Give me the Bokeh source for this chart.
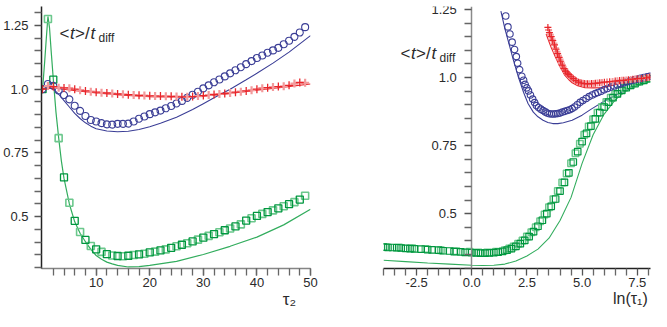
from bokeh.plotting import figure
from bokeh.layouts import row
from bokeh.models import Range1d, LinearAxis, FixedTicker, NumeralTickFormatter, Label
from bokeh.embed import file_html
from bokeh.resources import INLINE

# ---------------- data: left panel (x = tau2) ----------------
tau2 = list(range(50))
green_sq_left = [1.000, 1.275, 1.037, 0.808, 0.654, 0.555, 0.484, 0.440, 0.409, 0.385,
                 0.372, 0.362, 0.353, 0.348, 0.346, 0.345, 0.347, 0.350, 0.352, 0.355,
                 0.360, 0.363, 0.368, 0.372, 0.378, 0.384, 0.390, 0.396, 0.403, 0.410,
                 0.418, 0.425, 0.432, 0.439, 0.447, 0.454, 0.462, 0.470, 0.485, 0.494,
                 0.503, 0.511, 0.518, 0.525, 0.533, 0.541, 0.549, 0.557, 0.567, 0.582]
blue_ci_left = [1.000, 1.020, 1.013, 0.995, 0.977, 0.960, 0.935, 0.915, 0.895, 0.879,
                0.873, 0.867, 0.862, 0.861, 0.864, 0.864, 0.865, 0.873, 0.884, 0.893,
                0.902, 0.909, 0.916, 0.925, 0.934, 0.944, 0.954, 0.966, 0.978, 0.990,
                1.003, 1.015, 1.027, 1.038, 1.050, 1.062, 1.074, 1.086, 1.098, 1.110,
                1.122, 1.132, 1.143, 1.152, 1.162, 1.176, 1.190, 1.205, 1.222, 1.243]
red_pl_left = [1.000, 1.012, 1.010, 1.006, 1.005, 1.004, 1.000, 0.996, 0.993, 0.990,
               0.988, 0.986, 0.985, 0.983, 0.981, 0.980, 0.978, 0.977, 0.976, 0.975,
               0.974, 0.973, 0.973, 0.972, 0.972, 0.971, 0.970, 0.970, 0.971, 0.973,
               0.975, 0.977, 0.979, 0.981, 0.983, 0.985, 0.988, 0.990, 0.993, 0.996,
               1.000, 1.004, 1.006, 1.008, 1.010, 1.011, 1.015, 1.022, 1.026, 1.025]

green_line_left_x = [0, 0.4, 0.7, 1.0, 1.3, 1.6, 2.0, 2.5, 3.0, 3.5, 4, 5, 6, 7, 8, 9, 10,
                     11, 12, 13, 14, 16, 18, 20, 25, 30, 35, 40, 45, 50]
green_line_left_y = [1.0, 1.11, 1.20, 1.285, 1.24, 1.15, 1.04, 0.91, 0.81, 0.72, 0.65, 0.55,
                     0.48, 0.435, 0.402, 0.372, 0.348, 0.333, 0.322, 0.315, 0.309, 0.303,
                     0.304, 0.309, 0.325, 0.352, 0.384, 0.420, 0.468, 0.529]
blue_line_left_x = [0, 1, 2, 3, 4, 5, 6, 7, 8, 9, 10, 12, 14, 16, 18, 20, 22, 25, 28, 30,
                    32, 35, 38, 40, 43, 46, 50]
blue_line_left_y = [1.0, 1.01, 1.0, 0.98, 0.955, 0.93, 0.905, 0.885, 0.868, 0.855, 0.845,
                    0.836, 0.833, 0.835, 0.842, 0.853, 0.866, 0.89, 0.92, 0.943, 0.966,
                    1.0, 1.037, 1.062, 1.102, 1.145, 1.21]
red_line_left_x = [0, 2, 5, 10, 15, 20, 25, 30, 35, 40, 45, 50]
red_line_left_y = [1.0, 1.005, 0.997, 0.985, 0.976, 0.970, 0.968, 0.972, 0.983, 0.996,
                   1.008, 1.020]

# ---------------- data: right panel (x = ln tau1) ----------------
green_sq_right_x = [-4.0, -3.8, -3.6, -3.4, -3.2, -3.0, -2.8, -2.6, -2.3, -2.0, -1.8, -1.5,
                    -1.3, -1.0, -0.8, -0.5, -0.3, 0.0, 0.2, 0.4, 0.6, 0.8, 1.0, 1.2, 1.4,
                    1.6, 1.8, 2.0, 2.2, 2.4, 2.6, 2.8, 3.0, 3.2, 3.4, 3.6, 3.8, 4.0, 4.2,
                    4.4, 4.6, 4.8, 5.0, 5.2, 5.4, 5.6, 5.8, 6.0, 6.2, 6.4, 6.6, 6.8, 7.0,
                    7.2, 7.4, 7.6, 7.8, 8.0]
green_sq_right_y = [0.377, 0.376, 0.376, 0.375, 0.374, 0.373, 0.372, 0.371, 0.370, 0.368,
                    0.367, 0.366, 0.364, 0.363, 0.361, 0.360, 0.358, 0.357, 0.356, 0.355,
                    0.355, 0.356, 0.357, 0.359, 0.362, 0.366, 0.372, 0.380, 0.390, 0.402,
                    0.416, 0.434, 0.454, 0.476, 0.500, 0.527, 0.554, 0.583, 0.615, 0.650,
                    0.690, 0.728, 0.765, 0.795, 0.822, 0.848, 0.871, 0.892, 0.910, 0.926,
                    0.940, 0.953, 0.963, 0.971, 0.978, 0.985, 0.990, 0.996]
green_sq2_right_x = [-3.9, -3.3, -2.7, -2.1, -1.4, -0.7, -0.1, 0.3, 0.7, 1.1, 1.5, 1.7,
                     1.9, 2.1, 2.3, 2.5, 2.7, 2.9, 3.1, 3.3, 3.5, 3.7, 3.9, 4.1, 4.3, 4.5,
                     4.7, 4.9, 5.1, 5.3, 5.5, 5.7, 5.9, 6.1, 6.3, 6.5, 6.7, 6.9, 7.1, 7.3,
                     7.5, 7.7, 7.9]
green_sq2_right_y = [0.378, 0.376, 0.373, 0.370, 0.366, 0.362, 0.360, 0.358, 0.358, 0.360,
                     0.366, 0.372, 0.380, 0.390, 0.402, 0.416, 0.432, 0.450, 0.472, 0.497,
                     0.524, 0.553, 0.583, 0.615, 0.648, 0.685, 0.722, 0.757, 0.790, 0.820,
                     0.847, 0.871, 0.892, 0.910, 0.926, 0.940, 0.953, 0.963, 0.972, 0.979,
                     0.985, 0.990, 0.995]
blue_ci_right_x = [1.54, 1.64, 1.73, 1.83, 1.94, 2.02, 2.08, 2.17, 2.27, 2.35, 2.42, 2.50,
                   2.57, 2.66, 2.76, 2.85, 2.93, 3.03, 3.13, 3.23, 3.33, 3.42, 3.52, 3.62,
                   3.72, 3.81, 3.90, 4.00, 4.11, 4.22, 4.33, 4.44, 4.55, 4.66, 4.78, 4.91,
                   5.04, 5.18, 5.32, 5.46, 5.60, 5.72, 5.86, 6.00, 6.15, 6.30, 6.45, 6.60,
                   6.75, 6.89, 7.05, 7.20, 7.35, 7.50, 7.65, 7.80, 7.95, 8.07]
blue_ci_right_y = [1.226, 1.186, 1.160, 1.130, 1.103, 1.077, 1.053, 1.029, 1.005, 0.990,
                   0.975, 0.962, 0.951, 0.936, 0.921, 0.908, 0.897, 0.890, 0.884, 0.879,
                   0.874, 0.870, 0.867, 0.866, 0.866, 0.867, 0.868, 0.870, 0.873, 0.876,
                   0.879, 0.882, 0.886, 0.892, 0.900, 0.909, 0.916, 0.923, 0.930, 0.936,
                   0.941, 0.945, 0.950, 0.955, 0.960, 0.965, 0.969, 0.973, 0.977, 0.981,
                   0.985, 0.988, 0.991, 0.994, 0.997, 1.000, 1.003, 1.005]
red_pl_right_x = [3.45, 3.52, 3.60, 3.67, 3.75, 3.82, 3.89, 3.96, 4.03, 4.10, 4.18, 4.25,
                  4.33, 4.40, 4.50, 4.60, 4.72, 4.84, 4.96, 5.10, 5.25, 5.43, 5.60, 5.80,
                  6.01, 6.25, 6.50, 6.70, 6.89, 7.10, 7.30, 7.50, 7.70, 7.92, 8.07]
red_pl_right_y = [1.184, 1.165, 1.150, 1.136, 1.120, 1.104, 1.088, 1.074, 1.060, 1.046,
                  1.033, 1.024, 1.016, 1.011, 1.003, 0.996, 0.989, 0.983, 0.980, 0.978,
                  0.977, 0.978, 0.979, 0.981, 0.983, 0.985, 0.987, 0.989, 0.990, 0.992,
                  0.994, 0.996, 0.997, 0.999, 1.002]
red_pl2_right_x = [3.48, 3.56, 3.64, 3.72, 3.80, 3.86, 3.93, 4.00, 4.07, 4.14, 4.22, 4.30,
                   4.37, 4.45, 4.55, 4.66, 4.78, 4.90, 5.03, 5.18, 5.34, 5.52, 5.70, 5.90,
                   6.13, 6.38, 6.60, 6.80, 7.00, 7.20, 7.40, 7.60, 7.82, 8.00]
red_pl2_right_y = [1.175, 1.157, 1.140, 1.125, 1.108, 1.095, 1.080, 1.066, 1.053, 1.040,
                   1.030, 1.020, 1.013, 1.007, 1.000, 0.993, 0.986, 0.982, 0.979, 0.977,
                   0.977, 0.978, 0.980, 0.982, 0.984, 0.986, 0.988, 0.990, 0.991, 0.993,
                   0.995, 0.996, 0.998, 1.000]

green_line_right_x = [-4, -3, -2, -1, 0, 0.5, 1, 1.5, 2, 2.5, 3, 3.5, 4, 4.5, 5, 5.5, 6,
                      6.5, 7, 7.5, 8.07]
green_line_right_y = [0.329, 0.324, 0.319, 0.315, 0.311, 0.310, 0.311, 0.315, 0.326, 0.345,
                      0.370, 0.410, 0.475, 0.560, 0.685, 0.790, 0.866, 0.918, 0.952, 0.975,
                      0.990]
blue_line_right_x = [1.32, 1.5, 1.7, 1.88, 2.1, 2.35, 2.55, 2.79, 3.0, 3.23, 3.45, 3.67,
                     3.9, 4.15, 4.55, 5.0, 5.43, 6.0, 6.6, 7.2, 7.6, 8.07]
blue_line_right_y = [1.244, 1.18, 1.12, 1.066, 1.005, 0.945, 0.905, 0.873, 0.856, 0.843,
                     0.835, 0.831, 0.831, 0.834, 0.843, 0.862, 0.885, 0.913, 0.939, 0.962,
                     0.977, 0.999]
red_line_right_x = [3.37, 3.6, 3.8, 3.96, 4.2, 4.4, 4.55, 4.8, 5.13, 5.5, 5.87, 6.3, 6.89,
                    7.5, 8.07]
red_line_right_y = [1.16, 1.11, 1.074, 1.046, 1.01, 0.992, 0.981, 0.970, 0.963, 0.962,
                    0.963, 0.970, 0.981, 0.990, 1.000]

y_major = [0.5, 0.75, 1.0, 1.25]
y_minor = [0.30, 0.35, 0.40, 0.45, 0.55, 0.60, 0.65, 0.70, 0.80, 0.85, 0.90, 0.95,
           1.05, 1.10, 1.15, 1.20, 1.30]
x_left_major = [10, 20, 30, 40, 50]
x_left_minor = list(range(2, 51, 2))
x_right_major = [-2.5, 0.0, 2.5, 5.0, 7.5]
x_right_minor = [-4.0, -3.5, -3.0, -2.0, -1.5, -1.0, -0.5, 0.5, 1.0, 1.5, 2.0, 3.0, 3.5,
                 4.0, 4.5, 5.5, 6.0, 6.5, 7.0, 8.0]

x_left_title = "τ₂"
x_right_title = "ln(τ₁)"

# ---------------- styles ----------------
FONT = "Liberation Sans"
RED = "#e8262b"
PINK = "#f39a9c"
BLUE = "#3b3e96"
GREEN_D = "#00973f"
GREEN_L = "#6cc88d"
GREEN_LINE = "#33ad5e"
TXT = "#2a2a2a"
NBSP = "\u00a0"


def style_axis(ax, line_color, fmt, standoff):
    ax.axis_line_color = line_color
    ax.axis_line_width = 1.5
    ax.major_tick_line_color = "#555555"
    ax.minor_tick_line_color = "#666666"
    ax.major_tick_line_width = 1.3
    ax.minor_tick_line_width = 1.3
    ax.major_tick_in = 0
    ax.minor_tick_in = 0
    ax.major_tick_out = 7
    ax.minor_tick_out = 7
    ax.major_label_text_font = FONT
    ax.major_label_text_font_size = "13px"
    ax.major_label_text_color = TXT
    ax.major_label_standoff = standoff
    ax.formatter = NumeralTickFormatter(format=fmt)
    ax.axis_label_text_font = FONT
    ax.axis_label_text_font_style = "normal"
    ax.axis_label_text_color = TXT
    ax.axis_label_standoff = 0


def add_text(p, x, y, text, size, italic=False):
    p.add_layout(Label(x=x, y=y, x_units="screen", y_units="screen", text=text,
                       text_font=FONT, text_font_size=size, text_color=TXT,
                       text_font_style="italic" if italic else "normal",
                       text_baseline="alphabetic", text_align="left"))


def tdiff_label(p, x0, y0):
    add_text(p, x0, y0, "<", "17px")
    add_text(p, x0 + 10.5, y0, "t", "17px", italic=True)
    add_text(p, x0 + 15.5, y0, ">", "17px")
    add_text(p, x0 + 25.5, y0, "/", "17px")
    add_text(p, x0 + 31, y0, "t", "17px", italic=True)
    add_text(p, x0 + 39, y0 - 4, "diff", "12px")


# ---------------- left figure ----------------
p1 = figure(width=330, height=311, x_range=Range1d(-0.2, 50), y_range=Range1d(0.297, 1.324),
            output_backend="svg", toolbar_location=None, x_axis_location=None,
            y_axis_location=None, min_border_left=40, min_border_right=20,
            min_border_top=6, min_border_bottom=42, title=None)
p1.grid.grid_line_color = None
p1.outline_line_color = None

xa1 = LinearAxis(ticker=FixedTicker(ticks=x_left_major, minor_ticks=x_left_minor))
style_axis(xa1, "#858585", "0", standoff=2)
# centred label, padded in front so that the visible text sits near the right end
xa1.axis_label = NBSP * 48 + x_left_title
xa1.axis_label_text_font_size = "17px"
p1.add_layout(xa1, "below")
ya1 = LinearAxis(ticker=FixedTicker(ticks=y_major, minor_ticks=y_minor))
style_axis(ya1, "#222222", "0.0[0]", standoff=6)
p1.add_layout(ya1, "left")

p1.line(green_line_left_x, green_line_left_y, line_color=GREEN_LINE, line_width=1.2)
p1.line(blue_line_left_x, blue_line_left_y, line_color=BLUE, line_width=1.1)
p1.line(red_line_left_x, red_line_left_y, line_color=RED, line_width=1.1)

p1.scatter(tau2[1::2], green_sq_left[1::2], marker="square", size=7, fill_color=None,
           line_color=GREEN_L, line_width=1.6)
p1.scatter(tau2[0::2], green_sq_left[0::2], marker="square", size=7, fill_color=None,
           line_color=GREEN_D, line_width=1.3)
p1.scatter(tau2, blue_ci_left, marker="circle", size=7, fill_color=None,
           line_color=BLUE, line_width=1.1)
p1.scatter(tau2[1::2], red_pl_left[1::2], marker="cross", size=8, line_color=PINK,
           line_width=2.2)
p1.scatter(tau2[0::2], red_pl_left[0::2], marker="cross", size=8, line_color=RED,
           line_width=1.3)

tdiff_label(p1, 18, 235)

# ---------------- right figure ----------------
p2 = figure(width=321, height=311, x_range=Range1d(-4.0, 8.1), y_range=Range1d(0.2988, 1.261),
            output_backend="svg", toolbar_location=None, x_axis_location=None,
            y_axis_location=None, min_border_left=53, min_border_right=1,
            min_border_top=6, min_border_bottom=42, title=None)
p2.grid.grid_line_color = None
p2.outline_line_color = None

xa2 = LinearAxis(ticker=FixedTicker(ticks=x_right_major, minor_ticks=x_right_minor))
style_axis(xa2, "#222222", "0.0", standoff=2)
xa2.axis_label = NBSP * 51 + x_right_title
xa2.axis_label_text_font_size = "16px"
p2.add_layout(xa2, "below")
ya2 = LinearAxis(ticker=FixedTicker(ticks=y_major, minor_ticks=y_minor[:-1]), fixed_location=0)
style_axis(ya2, "#8a8a8a", "0.0[0]", standoff=8)
p2.add_layout(ya2, "left")

p2.line(green_line_right_x, green_line_right_y, line_color=GREEN_LINE, line_width=1.1)
p2.line(blue_line_right_x, blue_line_right_y, line_color=BLUE, line_width=1.1)
p2.line(red_line_right_x, red_line_right_y, line_color=RED, line_width=1.1)

p2.scatter(green_sq2_right_x, green_sq2_right_y, marker="square", size=6.5, fill_color=None,
           line_color=GREEN_L, line_width=1.5)
p2.scatter(green_sq_right_x, green_sq_right_y, marker="square", size=6.5, fill_color=None,
           line_color=GREEN_D, line_width=1.2)
p2.scatter(blue_ci_right_x, blue_ci_right_y, marker="circle", size=6.5, fill_color=None,
           line_color=BLUE, line_width=1.1)
p2.scatter(red_pl2_right_x, red_pl2_right_y, marker="cross", size=7, line_color=PINK,
           line_width=2.0)
p2.scatter(red_pl_right_x, red_pl_right_y, marker="cross", size=7, line_color=RED,
           line_width=1.2)

tdiff_label(p2, 17, 215)

layout = row(p1, p2)
open("out.html", "w").write(file_html(layout, INLINE))
